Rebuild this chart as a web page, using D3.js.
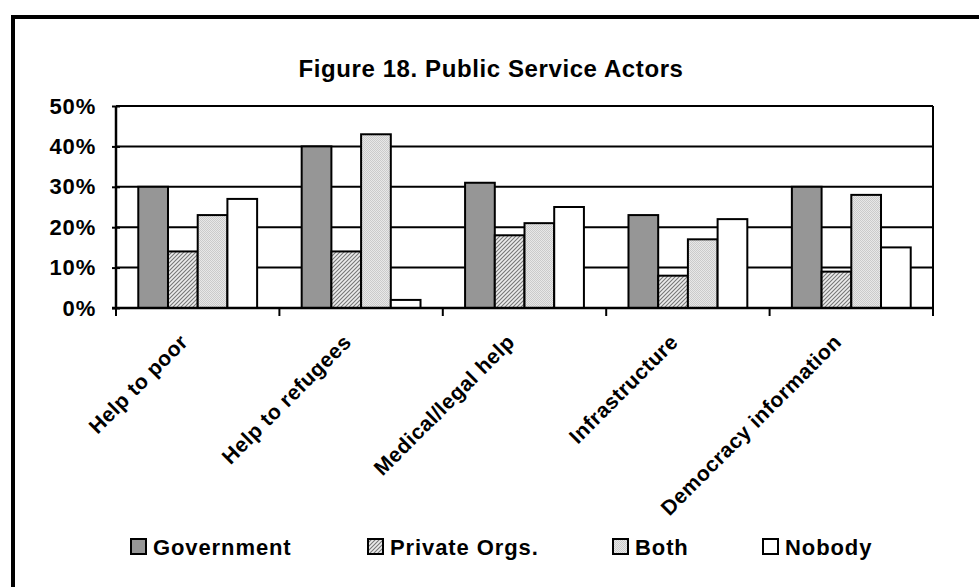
<!DOCTYPE html>
<html>
<head>
<meta charset="utf-8">
<script src="https://cdn.jsdelivr.net/npm/d3@7"></script>
<style>
  body { margin: 0; background: #fff; }
  text { font-family: "Liberation Sans", Arial, sans-serif; font-weight: bold; fill: #000; }
</style>
</head>
<body>
<div id="chart"></div>
<script>
// data
var categories = ["Help to poor", "Help to refugees", "Medical/legal help", "Infrastructure", "Democracy information"];
var seriesNames = ["Government", "Private Orgs.", "Both", "Nobody"];
var government = [30, 40, 31, 23, 30];
var privateOrgs = [14, 14, 18, 8, 9];
var both = [23, 43, 21, 17, 28];
var nobody = [27, 2, 25, 22, 15];
var yTicks = [0, 10, 20, 30, 40, 50];

var seriesValues = [government, privateOrgs, both, nobody];
var fills = ["#969696", "url(#hatch)", "url(#dots)", "#ffffff"];

var width = 979, height = 587;
var margin = {top: 106, right: 46, bottom: 279, left: 116};

var svg = d3.select("#chart").append("svg")
    .attr("width", width)
    .attr("height", height);

var defs = svg.append("defs");
var hatch = defs.append("pattern")
    .attr("id", "hatch")
    .attr("patternUnits", "userSpaceOnUse")
    .attr("width", 4).attr("height", 4);
hatch.append("rect").attr("width", 4).attr("height", 4).attr("fill", "#ececec");
hatch.append("path")
    .attr("d", "M-1,5 L5,-1 M-1,1 L1,-1 M3,5 L5,3")
    .attr("stroke", "#777").attr("stroke-width", 1.1);

var dots = defs.append("pattern")
    .attr("id", "dots")
    .attr("patternUnits", "userSpaceOnUse")
    .attr("width", 2).attr("height", 2);
dots.append("rect").attr("width", 2).attr("height", 2).attr("fill", "#e8e8e8");
dots.append("rect").attr("width", 1).attr("height", 1).attr("fill", "#cbcbcb");
dots.append("rect").attr("x", 1).attr("y", 1).attr("width", 1).attr("height", 1).attr("fill", "#cbcbcb");

// outer frame
svg.append("rect")
    .attr("x", 13).attr("y", 17)
    .attr("width", 1000).attr("height", 620)
    .attr("fill", "none").attr("stroke", "#000").attr("stroke-width", 4);

var innerW = width - margin.left - margin.right;
var innerH = height - margin.top - margin.bottom;

var x = d3.scaleBand().domain(categories).range([margin.left, margin.left + innerW]);
var barW = x.bandwidth() / 5.5;
var xs = d3.scaleBand().domain(seriesNames)
    .range([0, barW * 4]);
var y = d3.scaleLinear().domain([0, 50]).range([margin.top + innerH, margin.top]);

// title
svg.append("text")
    .attr("x", 491).attr("y", 77)
    .attr("text-anchor", "middle")
    .attr("font-size", 24)
    .attr("letter-spacing", 0.6)
    .text("Figure 18. Public Service Actors");

// gridlines
svg.append("g")
    .selectAll("line")
    .data(yTicks.slice(1))
    .join("line")
    .attr("x1", margin.left).attr("x2", margin.left + innerW)
    .attr("y1", d => y(d)).attr("y2", d => y(d))
    .attr("stroke", "#000").attr("stroke-width", 2);

// right plot border
svg.append("line")
    .attr("x1", margin.left + innerW).attr("x2", margin.left + innerW)
    .attr("y1", y(50)).attr("y2", y(0))
    .attr("stroke", "#000").attr("stroke-width", 2);

// bars
var groups = svg.append("g")
    .selectAll("g")
    .data(seriesNames)
    .join("g")
    .attr("fill", (d, i) => fills[i]);

groups.selectAll("rect")
    .data((s, i) => categories.map((c, j) => ({c: c, s: s, v: seriesValues[i][j]})))
    .join("rect")
    .attr("x", d => x(d.c) + barW * 0.75 + xs(d.s))
    .attr("y", d => y(d.v))
    .attr("width", xs.bandwidth())
    .attr("height", d => y(0) - y(d.v))
    .attr("stroke", "#000")
    .attr("stroke-width", 2);

// y axis
var yAxis = svg.append("g")
    .attr("transform", "translate(" + margin.left + ",0)")
    .call(d3.axisLeft(y).tickValues(yTicks).tickFormat(d => d + "%").tickSize(8).tickPadding(5));
yAxis.select(".domain").attr("stroke-width", 2.5).attr("d", "M0," + y(50) + "V" + y(0));
yAxis.selectAll(".tick line").attr("stroke-width", 2).attr("x2", 8).attr("transform", "translate(-4,0)");
yAxis.selectAll(".tick text")
    .attr("font-size", 22).attr("font-weight", "bold")
    .attr("font-family", "Liberation Sans, Arial, sans-serif")
    .attr("letter-spacing", 0.8)
    .attr("x", -20);

// x axis
var xAxis = svg.append("g")
    .attr("transform", "translate(0," + y(0) + ")");
xAxis.append("line")
    .attr("x1", margin.left - 4).attr("x2", margin.left + innerW)
    .attr("stroke", "#000").attr("stroke-width", 2.5);
var edges = categories.map(c => x(c)).concat([margin.left + innerW]);
xAxis.selectAll("line.tk")
    .data(edges)
    .join("line")
    .attr("class", "tk")
    .attr("x1", d => d).attr("x2", d => d)
    .attr("y1", 0).attr("y2", 8)
    .attr("stroke", "#000").attr("stroke-width", 2);

xAxis.selectAll("text")
    .data(categories)
    .join("text")
    .attr("transform", d => "translate(" + (x(d) + x.bandwidth() / 2 - 19) + ",25) rotate(-45)")
    .attr("text-anchor", "end")
    .attr("dy", "0.7em")
    .attr("font-size", 21)
    .attr("letter-spacing", 0.5)
    .text(d => d);

// legend
var legendX = [131, 368, 613, 763];
var legend = svg.append("g")
    .selectAll("g")
    .data(seriesNames)
    .join("g")
    .attr("transform", (d, i) => "translate(" + legendX[i] + ",539)");
legend.append("rect")
    .attr("width", 15).attr("height", 15)
    .attr("fill", (d, i) => fills[i])
    .attr("stroke", "#000").attr("stroke-width", 2);
legend.append("text")
    .attr("x", 22).attr("y", 16)
    .attr("font-size", 22)
    .attr("letter-spacing", 0.9)
    .text(d => d);
</script>
</body>
</html>
